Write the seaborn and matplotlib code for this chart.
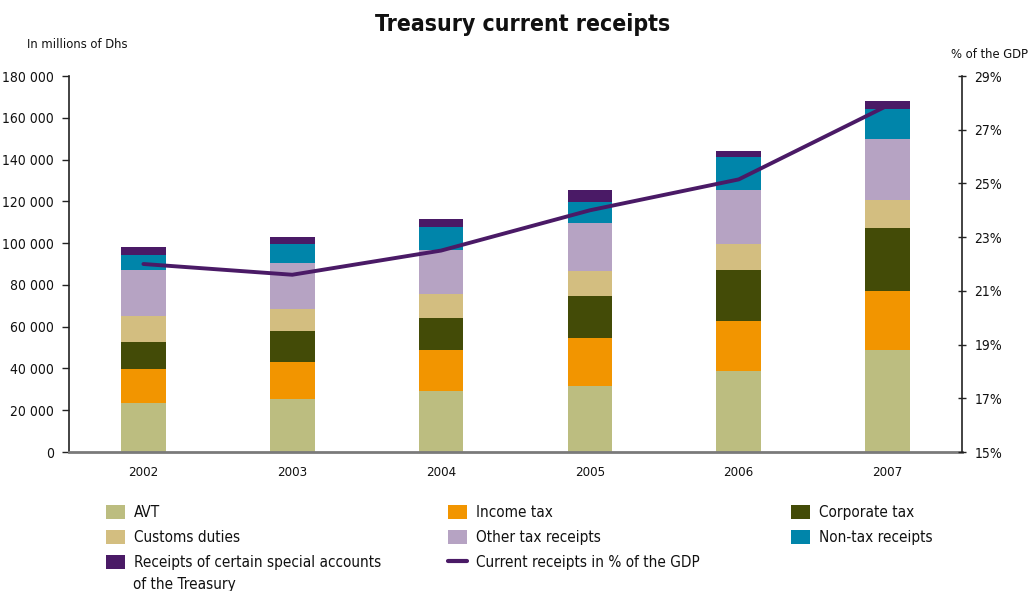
import matplotlib
matplotlib.use("Agg")
import matplotlib.pyplot as plt
from matplotlib.patches import Patch
from matplotlib.lines import Line2D
import seaborn as sns
import numpy as np
import pandas as pd

# Treasury current receipts, in millions of Dhs
years = ["2002", "2003", "2004", "2005", "2006", "2007"]
avt = [23500, 25400, 29200, 31600, 38800, 48800]
income_tax = [16200, 17700, 19600, 23000, 23900, 28300]
corporate_tax = [13000, 14800, 15300, 20100, 24400, 30100]
customs_duties = [12400, 10600, 11500, 11900, 12500, 13400]
other_tax = [22000, 22000, 21100, 23000, 25800, 29200]
non_tax = [7200, 9100, 11000, 10100, 15800, 14400]
special_accounts = [3800, 3300, 3800, 5700, 2900, 3800]
# Current receipts as a share of GDP (%)
gdp_share = [22.0, 21.6, 22.5, 24.0, 25.15, 27.9]

series_names = ["AVT", "Income tax", "Corporate tax", "Customs duties",
                "Other tax receipts", "Non-tax receipts",
                "Receipts of certain special accounts"]
series_values = [avt, income_tax, corporate_tax, customs_duties,
                 other_tax, non_tax, special_accounts]
series_colors = ["#bcbd80", "#f29500", "#434b07", "#d3be80",
                 "#b6a3c3", "#0085aa", "#4a1a66"]
line_name = "Current receipts in % of the GDP"
line_color = "#4a1a66"

sns.set_theme(style="white")
plt.rcParams["font.family"] = ["DejaVu Sans"]
plt.rcParams["font.stretch"] = "condensed"

fig = plt.figure(figsize=(10.30, 5.91), dpi=100)
ax = fig.add_axes([69 / 1030, 1 - 452 / 591, (962 - 69) / 1030, (452 - 76) / 591])

# Stacked bars: draw cumulative totals from the top layer down
cum = np.cumsum(np.array(series_values), axis=0)
for i in range(len(series_values) - 1, -1, -1):
    df = pd.DataFrame({"year": years, "value": cum[i]})
    sns.barplot(data=df, x="year", y="value", color=series_colors[i],
                width=0.3, saturation=1, ax=ax, errorbar=None, linewidth=0)

ax.set_ylim(0, 180000)
ax.set_xlim(-0.5, len(years) - 0.5)
ax.set_yticks(np.arange(0, 180001, 20000))
ax.set_yticklabels([f"{v:,}".replace(",", " ") for v in range(0, 180001, 20000)],
                   fontsize=10, color="#111111")
ax.set_xlabel("")
ax.set_ylabel("")
ax.tick_params(axis="x", which="major", length=0, labelsize=9.5, labelcolor="#111111", pad=10)
ax.set_xticks(np.arange(0.5, len(years) - 0.5), minor=True)
ax.tick_params(axis="x", which="minor", length=5, width=1, color="#333333", direction="out")
ax.tick_params(axis="y", length=5, width=1, color="#222222", direction="out", pad=6)

for s in ["top", "right"]:
    ax.spines[s].set_visible(False)
ax.spines["left"].set_color("#222222")
ax.spines["left"].set_linewidth(1.2)
ax.spines["bottom"].set_color("#7a7a7a")
ax.spines["bottom"].set_linewidth(2)

# GDP share on the secondary axis
ax2 = ax.twinx()
sns.lineplot(x=np.arange(len(years)), y=gdp_share, color=line_color,
             linewidth=2.8, ax=ax2)
ax2.set_ylim(15, 29)
ax2.set_yticks(np.arange(15, 30, 2))
ax2.set_yticklabels([f"{v}%" for v in range(15, 30, 2)], fontsize=10, color="#111111")
ax2.tick_params(axis="y", length=6, width=1, color="#222222", direction="inout", pad=6)
for s in ["top", "left", "bottom"]:
    ax2.spines[s].set_visible(False)
ax2.spines["right"].set_color("#222222")
ax2.spines["right"].set_linewidth(1.2)
ax2.grid(False)
ax.grid(False)

fig.text(523 / 1030, 1 - 24 / 591, "Treasury current receipts", ha="center", va="center",
         fontsize=16.5, fontweight="bold", color="#111111")
fig.text(27 / 1030, 1 - 45 / 591, "In millions of Dhs", ha="left", va="center",
         fontsize=9.3, color="#111111")
fig.text(1028 / 1030, 1 - 54 / 591, "% of the GDP", ha="right", va="center",
         fontsize=9.3, color="#111111")

# Legend in three fixed columns
patches = [Patch(facecolor=c, edgecolor="none", label=n) for c, n in zip(series_colors, series_names)]
line_handle = Line2D([0], [0], color=line_color, linewidth=3, label=line_name)
columns = [
    ([patches[0], patches[3], patches[6]], 106),
    ([patches[1], patches[4], line_handle], 448),
    ([patches[2], patches[5]], 791),
]
for handles, x0 in columns:
    fig.legend(handles=handles, loc="upper left",
               bbox_to_anchor=(x0 / 1030, 1 - 505 / 591),
               frameon=False, fontsize=11, handlelength=1.25, handleheight=1.05,
               handletextpad=0.6, labelspacing=0.62, borderaxespad=0,
               borderpad=0, labelcolor="#111111")
fig.text(133 / 1030, 1 - 584 / 591, "of the Treasury", ha="left", va="center",
         fontsize=11, color="#111111")

fig.savefig("out.png", dpi=100)
